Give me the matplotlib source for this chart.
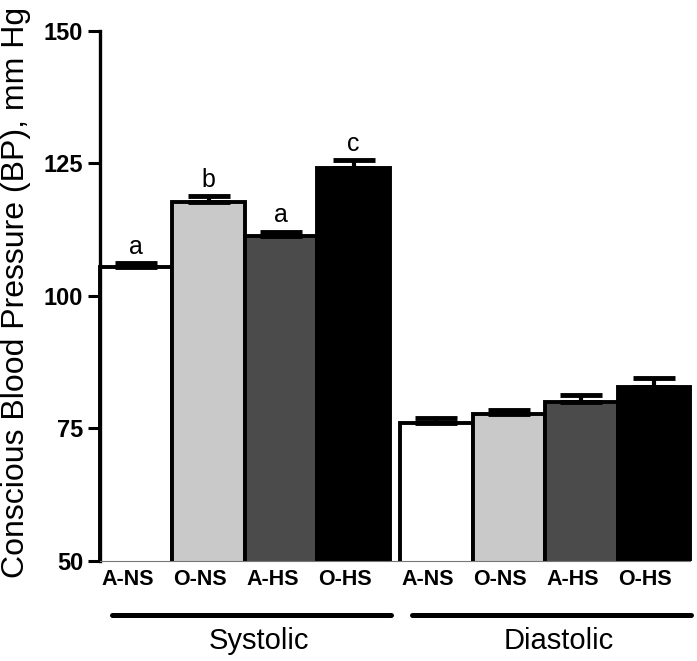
import matplotlib
matplotlib.use("Agg")
import matplotlib.pyplot as plt
from matplotlib.patches import Rectangle
import numpy as np

# data
groups = ["Systolic", "Diastolic"]
conditions = ["A-NS", "O-NS", "A-HS", "O-HS"]
systolic = [105.4, 117.6, 111.3, 124.1]
systolic_err = [0.7, 1.2, 0.8, 1.5]
diastolic = [75.9, 77.7, 80.0, 82.8]
diastolic_err = [1.0, 0.7, 1.2, 1.6]
letters = ["a", "b", "a", "c"]
yticks = [50, 75, 100, 125, 150]

bar_colors = ["#ffffff", "#c9c9c9", "#4b4b4b", "#000000"]
group_gap = 0.14

plt.rcParams["font.family"] = ["Liberation Sans", "DejaVu Sans"]

fig = plt.figure(figsize=(6.97, 6.61), dpi=100)
ax = fig.add_axes([100 / 697, (661 - 560.7) / 661, 590 / 697, 530 / 661])

# clip box a bit wider than the axes so the outer bar edges stay whole
clip = Rectangle((-0.02, 0), 1.04, 1.2, transform=ax.transAxes,
                 fill=False, visible=False)
ax.add_artist(clip)

values = [systolic, diastolic]
errors = [systolic_err, diastolic_err]

for g, name in enumerate(groups):
    start = g * (len(conditions) + group_gap)
    xs = start + np.arange(len(conditions)) + 0.5
    bars = ax.bar(xs, values[g], width=1.0, bottom=0, color=bar_colors,
                  edgecolor="black", linewidth=2.8, zorder=2)
    for b in bars:
        b.set_clip_path(clip)
    ax.errorbar(xs, values[g], yerr=[np.zeros(len(xs)), errors[g]],
                fmt="none", ecolor="black", elinewidth=3, capsize=15,
                capthick=3.5, zorder=3)
    # condition labels under each bar
    for x, c in zip(xs, conditions):
        ax.text(x - 0.12, -0.036, c, transform=ax.get_xaxis_transform(),
                ha="center", va="center", fontsize=15.5, fontweight="bold")
    # group line and name
    x0 = start + 0.17
    x1 = start + len(conditions) + 0.02
    ax.plot([x0, x1], [-0.1025, -0.1025], color="black", lw=3.6,
            solid_capstyle="round", transform=ax.get_xaxis_transform(),
            clip_on=False)
    ax.text((x0 + x1) / 2 + 0.1, -0.152, name, transform=ax.get_xaxis_transform(),
            ha="center", va="center", fontsize=21)

# significance letters on systolic bars
xs = np.arange(len(conditions)) + 0.5
for x, v, e, t in zip(xs, systolic, systolic_err, letters):
    ax.annotate(t, (x, v + e), xytext=(0, 3), textcoords="offset points",
                ha="center", va="bottom", fontsize=18)

ax.set_ylim(50, 150)
ax.set_xlim(0, 2 * len(conditions) + group_gap)
ax.set_yticks(yticks)
ax.set_yticklabels([str(t) for t in yticks], fontsize=17, fontweight="bold")
ax.set_xticks([])
ax.tick_params(axis="y", direction="out", length=9, width=2.2, pad=3)

for s in ["top", "right"]:
    ax.spines[s].set_visible(False)
ax.spines["left"].set_linewidth(2.4)
ax.spines["bottom"].set_linewidth(0.8)
ax.spines["bottom"].set_color("#777777")
ax.spines["bottom"].set_zorder(4)

fig.text(16 / 697, 1 - 292 / 661, "Conscious Blood Pressure (BP), mm Hg",
         rotation=90, ha="center", va="center", fontsize=23)

fig.savefig("out.png", dpi=100)
